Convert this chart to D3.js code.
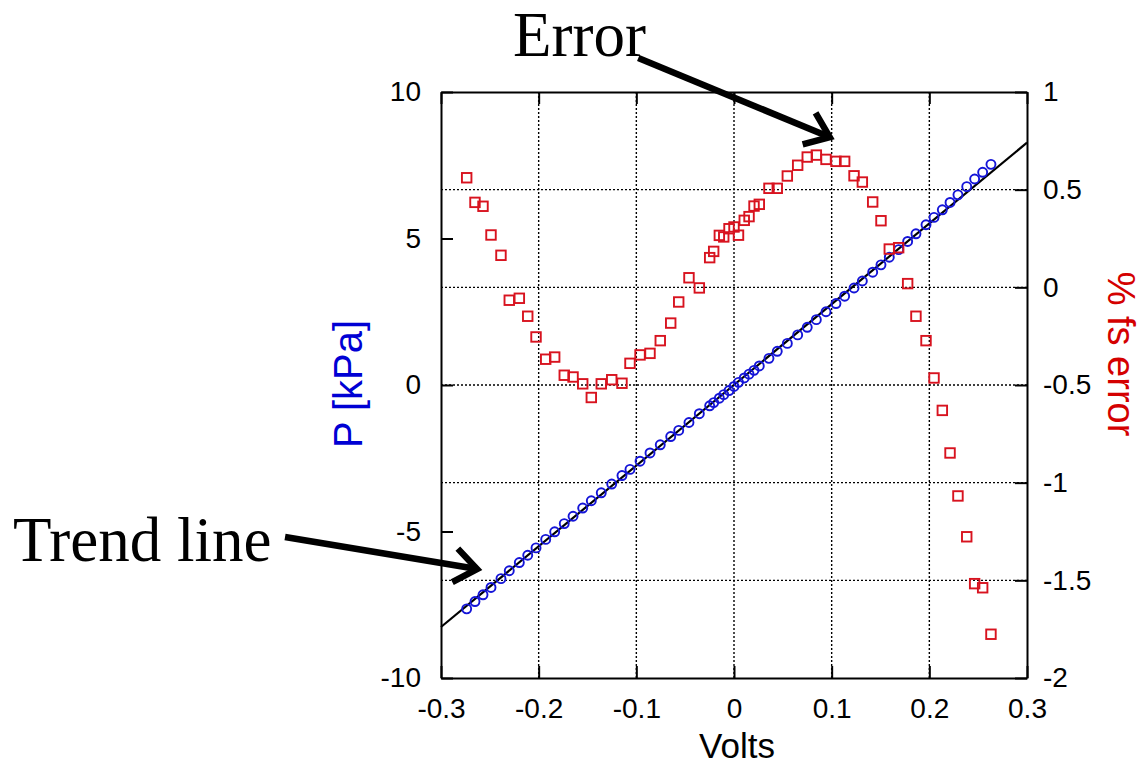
<!DOCTYPE html>
<html>
<head>
<meta charset="utf-8">
<script src="https://cdn.jsdelivr.net/npm/d3@7"></script>
<style>
  body { margin: 0; background: #fff; }
  svg { display: block; }
</style>
</head>
<body>
<div id="chart"></div>
<script>
// sensor data: voltage, pressure reading, percent full scale error
var volts = [-0.2737, -0.2652, -0.2570, -0.2488, -0.2386, -0.2301, -0.2198, -0.2112, -0.2027, -0.1928,
  -0.1836, -0.1738, -0.1648, -0.1549, -0.1461, -0.1359, -0.1252, -0.1147, -0.1065, -0.0962,
  -0.0860, -0.0755, -0.0648, -0.0566, -0.0461, -0.0355, -0.0249, -0.0208, -0.0150, -0.0105,
  -0.0051, 0.0000, 0.0046, 0.0105, 0.0154, 0.0205, 0.0259, 0.0358, 0.0443, 0.0546,
  0.0652, 0.0750, 0.0843, 0.0942, 0.1044, 0.1133, 0.1229, 0.1314, 0.1420, 0.1505,
  0.1590, 0.1686, 0.1778, 0.1863, 0.1966, 0.2048, 0.2133, 0.2212, 0.2293, 0.2383,
  0.2464, 0.2546, 0.2631];
var pressure = [-7.64, -7.39, -7.16, -6.91, -6.61, -6.34, -6.06, -5.81, -5.56, -5.27,
  -5.01, -4.73, -4.48, -4.20, -3.95, -3.68, -3.38, -3.09, -2.88, -2.60,
  -2.32, -2.04, -1.76, -1.55, -1.28, -0.98, -0.71, -0.60, -0.45, -0.33,
  -0.19, -0.05, 0.09, 0.24, 0.37, 0.50, 0.65, 0.91, 1.15, 1.42,
  1.71, 1.97, 2.23, 2.50, 2.78, 3.03, 3.31, 3.55, 3.85, 4.10,
  4.36, 4.62, 4.90, 5.16, 5.47, 5.72, 5.98, 6.23, 6.49, 6.77,
  7.03, 7.26, 7.53];
var errorPct = [0.561, 0.435, 0.415, 0.268, 0.164, -0.066, -0.056, -0.148, -0.254, -0.368,
  -0.357, -0.450, -0.459, -0.494, -0.564, -0.494, -0.473, -0.491, -0.389, -0.346,
  -0.338, -0.273, -0.183, -0.075, 0.049, -0.003, 0.152, 0.184, 0.266, 0.258,
  0.300, 0.309, 0.267, 0.343, 0.362, 0.416, 0.425, 0.507, 0.507, 0.570,
  0.625, 0.667, 0.677, 0.655, 0.645, 0.645, 0.571, 0.539, 0.437, 0.341,
  0.196, 0.203, 0.019, -0.148, -0.273, -0.464, -0.630, -0.848, -1.068, -1.277,
  -1.517, -1.538, -1.776];
// trend line end points
var trendV = [-0.3, 0.3];
var trendP = [-8.26, 8.27];
// tick values
var xTicks = [-0.3, -0.2, -0.1, 0, 0.1, 0.2, 0.3];
var leftTicks = [-10, -5, 0, 5, 10];
var rightTicks = [-2, -1.5, -1, -0.5, 0, 0.5, 1];

var width = 1141, height = 766;
var mLeft = 441, mTop = 92, plotW = 586, plotH = 586;

var svg = d3.select("#chart").append("svg")
  .attr("width", width)
  .attr("height", height);

var x = d3.scaleLinear().domain([-0.3, 0.3]).range([mLeft, mLeft + plotW]);
var yL = d3.scaleLinear().domain([-10, 10]).range([mTop + plotH, mTop]);
var yR = d3.scaleLinear().domain([-2, 1]).range([mTop + plotH, mTop]);

var fmt = function(d) { return String(d); };
var tickFont = "'Liberation Sans', Arial, sans-serif";

// dotted grid
var grid = svg.append("g")
  .attr("stroke", "#000")
  .attr("stroke-width", 1.4)
  .attr("stroke-dasharray", "2,2");
grid.selectAll("line.v")
  .data(xTicks.slice(1, -1))
  .enter().append("line")
  .attr("x1", function(d) { return x(d); })
  .attr("x2", function(d) { return x(d); })
  .attr("y1", mTop).attr("y2", mTop + plotH);
grid.selectAll("line.h")
  .data(rightTicks.slice(1, -1))
  .enter().append("line")
  .attr("y1", function(d) { return yR(d); })
  .attr("y2", function(d) { return yR(d); })
  .attr("x1", mLeft).attr("x2", mLeft + plotW);

// axes, ticks pointing inward
function styleAxis(g) {
  g.attr("font-family", tickFont).attr("font-size", 28);
  g.select(".domain").attr("stroke", "#000").attr("stroke-width", 2);
  g.selectAll(".tick line").attr("stroke", "#000").attr("stroke-width", 2);
  g.selectAll(".tick text").attr("fill", "#000");
}

svg.append("g")
  .attr("transform", "translate(0," + (mTop + plotH) + ")")
  .call(d3.axisBottom(x).tickValues(xTicks).tickSize(-12).tickSizeOuter(0).tickPadding(20).tickFormat(fmt))
  .call(styleAxis);

svg.append("g")
  .attr("transform", "translate(0," + mTop + ")")
  .call(d3.axisTop(x).tickValues(xTicks).tickSize(-12).tickSizeOuter(0).tickFormat(""))
  .call(styleAxis);

svg.append("g")
  .attr("transform", "translate(" + mLeft + ",0)")
  .call(d3.axisLeft(yL).tickValues(leftTicks).tickSize(-12).tickSizeOuter(0).tickPadding(20).tickFormat(fmt))
  .call(styleAxis);

svg.append("g")
  .attr("transform", "translate(" + (mLeft + plotW) + ",0)")
  .call(d3.axisRight(yR).tickValues(rightTicks).tickSize(-12).tickSizeOuter(0).tickPadding(16).tickFormat(fmt))
  .call(styleAxis);

// trend line
svg.append("path")
  .datum(d3.zip(trendV, trendP))
  .attr("fill", "none")
  .attr("stroke", "#000")
  .attr("stroke-width", 2.2)
  .attr("d", d3.line().x(function(d) { return x(d[0]); }).y(function(d) { return yL(d[1]); }));

// pressure points (blue circles)
svg.append("g").selectAll("circle")
  .data(d3.zip(volts, pressure))
  .enter().append("circle")
  .attr("cx", function(d) { return x(d[0]); })
  .attr("cy", function(d) { return yL(d[1]); })
  .attr("r", 4.5)
  .attr("fill", "none")
  .attr("stroke", "#1414d8")
  .attr("stroke-width", 1.9);

// error points (red squares)
var sq = 9.5;
svg.append("g").selectAll("rect")
  .data(d3.zip(volts, errorPct))
  .enter().append("rect")
  .attr("x", function(d) { return x(d[0]) - sq / 2; })
  .attr("y", function(d) { return yR(d[1]) - sq / 2; })
  .attr("width", sq)
  .attr("height", sq)
  .attr("fill", "none")
  .attr("stroke", "#d8131f")
  .attr("stroke-width", 1.9);

// axis titles
svg.append("text")
  .attr("x", 737).attr("y", 758)
  .attr("text-anchor", "middle")
  .attr("font-family", tickFont)
  .attr("font-size", 35)
  .text("Volts");

svg.append("text")
  .attr("transform", "translate(362,384) rotate(-90)")
  .attr("text-anchor", "middle")
  .attr("font-family", tickFont)
  .attr("font-size", 40)
  .attr("fill", "#0000d4")
  .text("P [kPa]");

svg.append("text")
  .attr("transform", "translate(1108,354) rotate(90)")
  .attr("text-anchor", "middle")
  .attr("font-family", tickFont)
  .attr("font-size", 38)
  .attr("fill", "#d40000")
  .text("% fs error");

// annotations
var serif = "'Liberation Serif', 'Times New Roman', serif";
svg.append("text")
  .attr("x", 513).attr("y", 56)
  .attr("font-family", serif)
  .attr("font-size", 63)
  .text("Error");
svg.append("text")
  .attr("x", 13).attr("y", 561)
  .attr("font-family", serif)
  .attr("font-size", 63)
  .text("Trend line");

// arrows given in data units (x volts, y kPa)
var arrows = [
  { from: [-0.098, 11.16], to: [0.098, 8.46] },
  { from: [-0.4597, -5.19], to: [-0.2631, -6.28] }
];
arrows.forEach(function(a) {
  var x0 = x(a.from[0]), y0 = yL(a.from[1]);
  var x1 = x(a.to[0]), y1 = yL(a.to[1]);
  var ang = Math.atan2(y1 - y0, x1 - x0);
  var len = 28, spread = 0.65;
  var p1 = [x1 - len * Math.cos(ang - spread), y1 - len * Math.sin(ang - spread)];
  var p2 = [x1 - len * Math.cos(ang + spread), y1 - len * Math.sin(ang + spread)];
  var g = svg.append("g")
    .attr("fill", "none")
    .attr("stroke", "#000")
    .attr("stroke-width", 6.5);
  g.append("line")
    .attr("x1", x0).attr("y1", y0)
    .attr("x2", x1 - 3 * Math.cos(ang)).attr("y2", y1 - 3 * Math.sin(ang));
  g.append("path")
    .attr("stroke-linejoin", "miter")
    .attr("d", "M" + p1 + "L" + [x1, y1] + "L" + p2);
});
</script>
</body>
</html>
